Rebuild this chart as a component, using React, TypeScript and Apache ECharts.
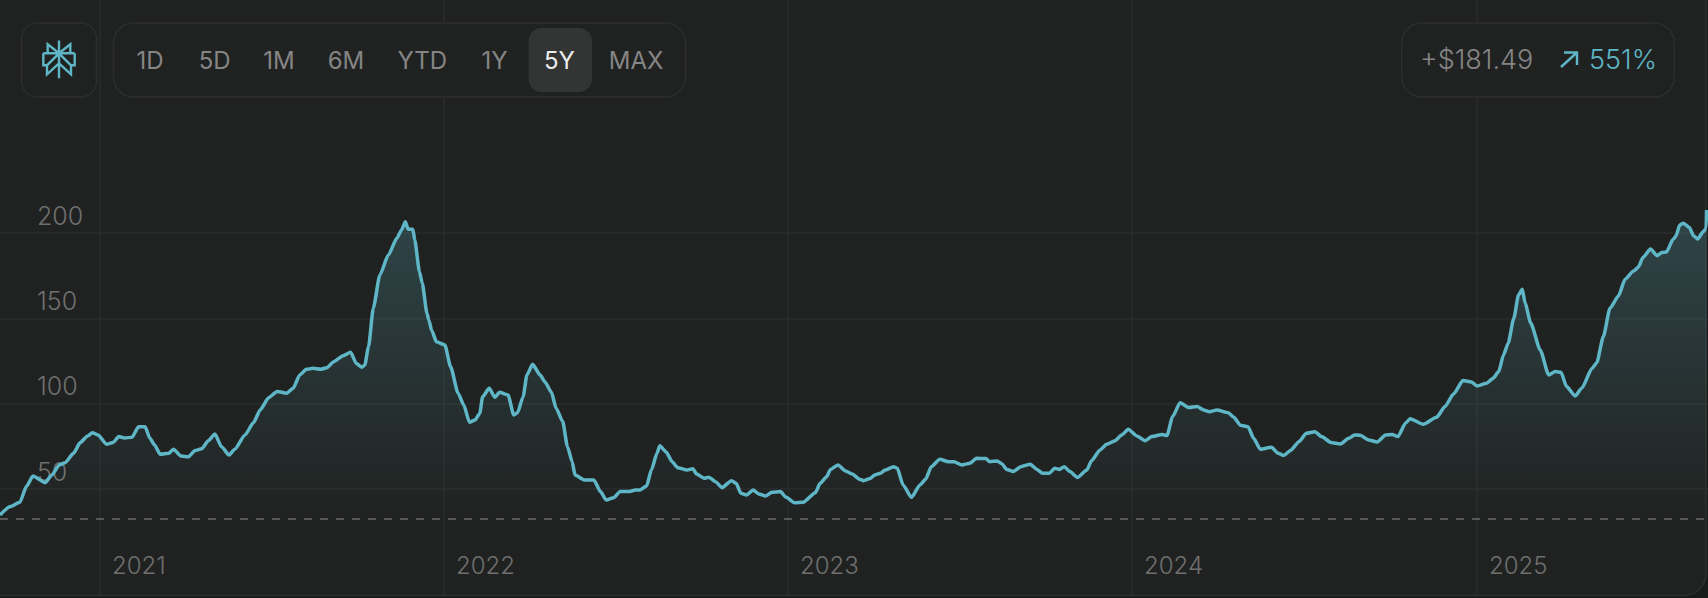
import React, { useEffect, useRef } from "react";
import * as echarts from "echarts";

const FONT = "Inter, 'Noto Sans', sans-serif";
const START_UTC = Date.UTC(2020, 8, 17);
const DAY_MS = 86400000;
const END_DAY = 1812;

// Days since the series start, and the price on each of those days
const days = [
  0, 11, 21, 28, 35, 48, 55, 63, 69, 78, 85, 93, 98, 104, 113, 120, 126, 132, 140, 147, 154, 159, 164, 170, 179, 184, 192, 200, 207, 214, 221, 228, 235, 243, 249, 260, 269, 276, 285, 294, 304, 311, 318, 325, 332, 340, 347, 354, 364, 372, 378, 384, 387, 391, 396, 403, 412, 421, 426, 430, 433, 438, 440, 445, 448, 453, 455, 458,
  463, 472, 478, 486, 492, 498, 504, 509, 512, 519, 525, 530, 539, 545, 549, 555, 559, 565, 573, 578, 585, 590, 597, 602, 607, 610, 620, 630, 637, 643, 651, 658, 668, 674, 679, 686, 691, 697, 700, 707, 713, 719, 729, 735, 739, 747, 752, 759, 766, 776, 781, 786, 792, 799, 805, 812, 819, 828, 834, 843, 852, 865, 870, 877, 881, 889, 897, 904, 912,
  916, 923, 928, 934, 939, 948, 952, 958, 967, 976, 982, 988, 997, 1006, 1012, 1020, 1029, 1036, 1046, 1050, 1058, 1063, 1068, 1075, 1083, 1093, 1100, 1106, 1113, 1119, 1124, 1129, 1135, 1143, 1153, 1158, 1167, 1174, 1183, 1190, 1197, 1206, 1215, 1222, 1233, 1238, 1244, 1252, 1261, 1270, 1277, 1283, 1291, 1303, 1309, 1316, 1324, 1330, 1337, 1349, 1356, 1362, 1369,
  1378, 1386, 1395, 1402, 1412, 1422, 1431, 1437, 1443, 1452, 1461, 1470, 1477, 1483, 1491, 1496, 1510, 1524, 1533, 1542, 1552, 1561, 1567, 1577, 1584, 1590, 1595, 1600, 1606, 1611, 1615, 1618, 1624, 1634, 1643, 1650, 1656, 1662, 1671, 1678, 1689, 1694, 1701, 1708, 1717, 1724, 1733, 1738, 1743, 1751, 1758, 1763, 1768, 1775, 1778, 1782, 1786, 1792, 1797, 1801, 1807, 1810, 1810.5,
];
const prices = [
  34.9, 39.8, 42.3, 51.5, 57.7, 53.8, 58.3, 64.2, 65.5, 71, 77.3, 81.2, 83.1, 81.8, 76.3, 77.4, 80.8, 80, 80.4, 86.6, 86.6, 79.8, 75.9, 70.4, 71, 73.4, 69.4, 69, 72.6, 73.7, 78.4, 82.3, 74.9, 70, 73.4, 81.8, 89, 96.4, 103.6, 107.3, 106.2, 109.1, 116.9, 120.2, 120.8, 120.2, 121.2, 124.7, 128.2, 130.2, 123.7, 121.4, 122.8, 133.5, 156, 175.5, 187.2, 197, 201.9, 206.7, 202.3, 202.3, 196, 177.4, 170.6, 153, 149, 143,
  136.4, 134.5, 121.8, 106.2, 99.3, 89.2, 90.5, 94.4, 104.2, 109.1, 103.8, 106.8, 105.2, 93.5, 94.8, 104.2, 116.9, 123.2, 116.9, 113, 106.8, 97.4, 89.6, 74.9, 66.1, 58.3, 55.4, 55.4, 48.6, 43.7, 45, 48.7, 48.7, 49.5, 49.5, 51.9, 61.2, 71, 75.5, 71.6, 66.1, 62.6, 61.2, 62, 58.9, 56.4, 57, 54.4, 50.9, 55, 53.4, 47.6, 46.6, 49.5, 47.2, 46, 48.2, 48.6, 45.2, 42.1, 42.3, 47.9, 53.4, 57.3, 61.6, 64.2, 60.7, 58.9, 55.8,
  55, 56.2, 58.3, 59.3, 61.2, 63.2, 62.2, 52.5, 45.2, 52.5, 55.8, 63.2, 67.5, 66.1, 66.1, 64.2, 65.2, 68.1, 67.9, 66.1, 66.5, 64.8, 61.6, 60.3, 63.2, 64.6, 61.6, 59.3, 59.3, 62.2, 61.6, 63.2, 60.3, 56.8, 61.2, 66.7, 73, 76.3, 78.4, 81.8, 85.1, 81.2, 78.4, 80.8, 82.1, 81.4, 92.5, 100.7, 97.8, 98.4, 96.4, 95.4, 96.4, 94.8, 92.1, 87.4, 86.6, 79.8, 73.4, 74.5, 71, 69.8, 72.6,
  77.8, 82.7, 83.7, 80.8, 77.4, 76.5, 79.8, 81.8, 81.6, 78.8, 77.6, 81.8, 82.1, 80.8, 88.6, 91.3, 88, 92.1, 98.4, 105.8, 113.6, 112.8, 110.5, 112, 115, 118.9, 128.6, 135.5, 150.1, 163.8, 167.1, 158.9, 147.2, 131.6, 116.9, 118.9, 118.5, 110.1, 104.6, 109.1, 120.8, 124.1, 139.4, 156, 163.2, 173, 177.8, 180, 185.7, 190.7, 186.8, 188.6, 189, 196.4, 198.3, 204.8, 205.8, 203.4, 198.3, 196.6, 200.9, 202.8, 213.6,
];

const startPrice = 32.9;
const years = [2021, 2022, 2023, 2024, 2025];
const priceTicks = [50, 100, 150, 200];
const ranges = ["1D", "5D", "1M", "6M", "YTD", "1Y", "5Y", "MAX"];
const activeRange = "5Y";
const rangeCenters = [150, 214.7, 279, 346, 422.3, 494.6, 559.4, 636];
const gainText = "+$181.49";
const pctText = "551%";

const TEAL = "#5fb6c6";
const LINE = "#2a2c2b";
const PANEL = "#202221";
const LOGO =
  "M0 -18.7L0 19M-11.3 -6L-11.3 -15L0 -6L11.3 -15L11.3 -6M-15.7 -6L15.7 -6M-12 6L-15.7 6L-15.7 -6M12 6L15.7 6L15.7 -6M0 -6L-12 6L-12 15L0 4L12 15L12 6L0 -6";

echarts.graphic.registerShape("perplexityLogo", echarts.graphic.extendPath(LOGO as any, {}) as any);

const box = (x: number, y: number, width: number, height: number, r: number, fill = PANEL, stroke = "#2c2e2d", z = 10) => ({
  type: "rect",
  z,
  shape: { x, y, width, height, r },
  style: { fill, stroke, lineWidth: 1.5 },
});

const label = (text: string, x: number, y: number, fill: string, align = "center", size = 24, weight = 400) => ({
  type: "text",
  z: 12,
  x,
  y,
  style: { text, fill, font: `${weight} ${size}px ${FONT}`, align, verticalAlign: "middle" },
});

const dayOfYear = (y: number) => (Date.UTC(y, 0, 1) - START_UTC) / DAY_MS;

export default function App() {
  const ref = useRef<HTMLDivElement>(null);
  useEffect(() => {
    document.body.style.margin = "0";
    document.body.style.background = "#1a1b1b";
    const chart = echarts.init(ref.current!, null, { renderer: "svg" });
    const yearTicks = years.map(dayOfYear);
    chart.setOption({
      animation: false,
      backgroundColor: "#1a1b1b",
      grid: { left: 0, right: 0, top: 0, height: 595, containLabel: false },
      xAxis: {
        type: "value",
        min: 0,
        max: END_DAY,
        axisLine: { show: false },
        axisTick: { show: false, customValues: yearTicks },
        splitLine: { show: true, lineStyle: { color: LINE, width: 1.5 } },
        axisLabel: {
          customValues: yearTicks,
          inside: true,
          margin: 30,
          align: "left",
          verticalAlign: "middle",
          padding: [0, 0, 0, 12],
          color: "#6f6f6f",
          fontFamily: FONT,
          fontSize: 24,
          fontWeight: 300,
          hideOverlap: false,
          formatter: (v: number) => String(new Date(START_UTC + v * DAY_MS).getUTCFullYear()),
        },
      },
      yAxis: {
        type: "value",
        min: -12,
        max: 336.6,
        axisLine: { show: false },
        axisTick: { show: false, customValues: priceTicks },
        splitLine: { show: true, lineStyle: { color: LINE, width: 1.5 } },
        axisLabel: {
          customValues: priceTicks,
          inside: true,
          margin: 37,
          align: "left",
          verticalAlign: "bottom",
          lineHeight: 24,
          padding: [0, 0, 5.5, 0],
          color: "#6f6f6f",
          fontFamily: FONT,
          fontSize: 25,
          fontWeight: 300,
        },
      },
      graphic: {
        elements: [
          box(-20, -20, 1726, 615.5, 22, PANEL, "#2e302f", -10),
          box(21.5, 23, 75, 74, 16),
          box(113.5, 23, 572, 74, 20),
          box(1401.7, 23, 272.6, 74, 20),
          box(528.6, 28, 63.4, 64, 13, "#333534", "transparent", 11),
          {
            type: "perplexityLogo",
            z: 12,
            x: 59,
            y: 59.3,
            style: { fill: "none", stroke: TEAL, lineWidth: 2.4 },
          },
          ...ranges.map((r, i) =>
            label(r, rangeCenters[i], 60.5, r === activeRange ? "#ececec" : "#858585"),
          ),
          label(gainText, 1420, 59.5, "#858585", "left", 27, 300),
          label(pctText, 1589, 59.5, TEAL, "left", 27, 300),
          {
            type: "polyline",
            z: 12,
            shape: { points: [[1561, 67], [1577, 52.5]] },
            style: { stroke: TEAL, lineWidth: 2.4, fill: "none" },
          },
          {
            type: "polyline",
            z: 12,
            shape: { points: [[1564, 52.5], [1577, 52.5], [1577, 65]] },
            style: { stroke: TEAL, lineWidth: 2.4, fill: "none" },
          },
        ],
      },
      series: [
        {
          type: "line",
          data: days.map((d, i) => [d, prices[i]]),
          showSymbol: false,
          smooth: 0.2,
          smoothMonotone: "x",
          clip: false,
          lineStyle: { color: TEAL, width: 3.5, join: "round" },
          areaStyle: {
            origin: "start",
            color: {
              type: "linear",
              x: 0,
              y: 215,
              x2: 0,
              y2: 520,
              global: true,
              colorStops: [
                { offset: 0, color: "rgba(95,182,198,0.33)" },
                { offset: 1, color: "rgba(95,182,198,0)" },
              ],
            },
          },
          markLine: {
            silent: true,
            symbol: "none",
            label: { show: false },
            lineStyle: { color: "#6b6b6b", width: 1.5, type: [8, 8] },
            data: [{ yAxis: startPrice }],
          },
        },
      ],
    });
    return () => chart.dispose();
  }, []);
  return <div ref={ref} style={{ width: 1708, height: 598 }} />;
}
